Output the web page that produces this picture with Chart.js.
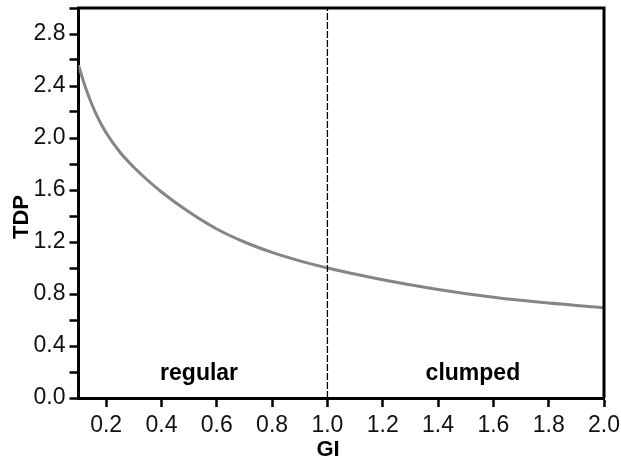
<!DOCTYPE html>
<html>
<head>
<meta charset="utf-8">
<script src="https://cdn.jsdelivr.net/npm/chart.js@4.4.1/dist/chart.umd.min.js"></script>
<style>
  html, body { margin: 0; padding: 0; background: #fff; }
  #wrap { width: 621px; height: 464px; }
</style>
</head>
<body>
<div id="wrap"><canvas id="c" width="621" height="464"></canvas></div>
<script>
// TDP as a function of the GI index
const giValues  = [0.1, 0.125, 0.15, 0.175, 0.2, 0.25, 0.3, 0.35, 0.4, 0.5, 0.6, 0.7, 0.8, 0.9, 1.0, 1.2, 1.4, 1.6, 1.8, 2.0];
const tdpValues = [2.56, 2.39, 2.25, 2.135, 2.04, 1.89, 1.775, 1.675, 1.585, 1.43, 1.30, 1.20, 1.12, 1.055, 1.00, 0.91, 0.835, 0.775, 0.73, 0.695];

// boundary between the two regimes
const boundaryGI = 1.0;
const regionLabels = [
  { text: 'regular', gi: 0.536, tdp: 0.14 },
  { text: 'clumped', gi: 1.526, tdp: 0.14 }
];

// tick positions
const xTicks = [0.2, 0.4, 0.6, 0.8, 1.0, 1.2, 1.4, 1.6, 1.8, 2.0];
const yTicks = [0.0, 0.2, 0.4, 0.6, 0.8, 1.0, 1.2, 1.4, 1.6, 1.8, 2.0, 2.2, 2.4, 2.6, 2.8, 3.0];
const yLabelled = [0.0, 0.4, 0.8, 1.2, 1.6, 2.0, 2.4, 2.8];

const xTitle = 'GI';
const yTitle = 'TDP';

const FONT = '"Liberation Sans", Arial, Helvetica, sans-serif';

const curve = giValues.map((g, i) => ({ x: g, y: tdpValues[i] }));

const framePlugin = {
  id: 'frame',
  afterDatasetsDraw(chart) {
    const { ctx, chartArea: a, scales } = chart;
    ctx.save();
    // top and right frame lines
    ctx.strokeStyle = '#000';
    ctx.lineWidth = 3;
    ctx.beginPath();
    ctx.moveTo(a.left - 1.5, a.top);
    ctx.lineTo(a.right, a.top);
    ctx.lineTo(a.right, a.bottom);
    ctx.stroke();
    // regime labels
    ctx.fillStyle = '#000';
    ctx.font = 'bold 23px ' + FONT;
    ctx.textAlign = 'center';
    ctx.textBaseline = 'alphabetic';
    regionLabels.forEach(l => {
      ctx.fillText(l.text, scales.x.getPixelForValue(l.gi), scales.y.getPixelForValue(l.tdp));
    });
    // axis titles
    ctx.font = 'bold 22px ' + FONT;
    ctx.fillText(xTitle, 328, 456);
    ctx.translate(28, 217);
    ctx.rotate(-Math.PI / 2);
    ctx.fillText(yTitle, 0, 0);
    ctx.restore();
  }
};

function noEdgePadding(s) {
  s.paddingTop = 0; s.paddingBottom = 0; s.paddingLeft = 0; s.paddingRight = 0;
}

new Chart(document.getElementById('c'), {
  type: 'scatter',
  data: {
    datasets: [
      {
        data: curve,
        showLine: true,
        borderColor: '#858585',
        borderWidth: 3,
        pointRadius: 0,
        cubicInterpolationMode: 'monotone',
        fill: false,
        order: 1
      },
      {
        data: [{ x: boundaryGI, y: 0 }, { x: boundaryGI, y: 3.0 }],
        showLine: true,
        borderColor: '#000',
        borderWidth: 1.3,
        borderDash: [7, 2],
        pointRadius: 0,
        fill: false,
        order: 0
      }
    ]
  },
  options: {
    responsive: false,
    animation: false,
    events: [],
    layout: { padding: { top: 8, right: 17, left: 0, bottom: 0 } },
    plugins: { legend: { display: false }, tooltip: { enabled: false } },
    scales: {
      x: {
        type: 'linear',
        min: 0.1,
        max: 2.0,
        afterBuildTicks(s) { s.ticks = xTicks.map(v => ({ value: v })); },
        afterFit(s) { s.height = 66; noEdgePadding(s); },
        border: { display: true, color: '#000', width: 3 },
        grid: { drawOnChartArea: false, drawTicks: true, tickLength: 9, tickWidth: 2.5, tickColor: '#000' },
        ticks: {
          color: '#111',
          padding: 5,
          font: { family: FONT, size: 23 },
          maxRotation: 0,
          autoSkip: false,
          callback: v => v.toFixed(1)
        }
      },
      y: {
        type: 'linear',
        min: 0,
        max: 3.0,
        afterBuildTicks(s) { s.ticks = yTicks.map(v => ({ value: v })); },
        afterFit(s) { s.width = 78.5; noEdgePadding(s); },
        border: { display: true, color: '#000', width: 3 },
        grid: { drawOnChartArea: false, drawTicks: true, tickLength: 9, tickWidth: 2.5, tickColor: '#000' },
        ticks: {
          color: '#111',
          padding: 4,
          font: { family: FONT, size: 23 },
          autoSkip: false,
          callback: v => yLabelled.some(t => Math.abs(t - v) < 1e-6) ? v.toFixed(1) : ''
        }
      }
    }
  },
  plugins: [framePlugin]
});
</script>
</body>
</html>
